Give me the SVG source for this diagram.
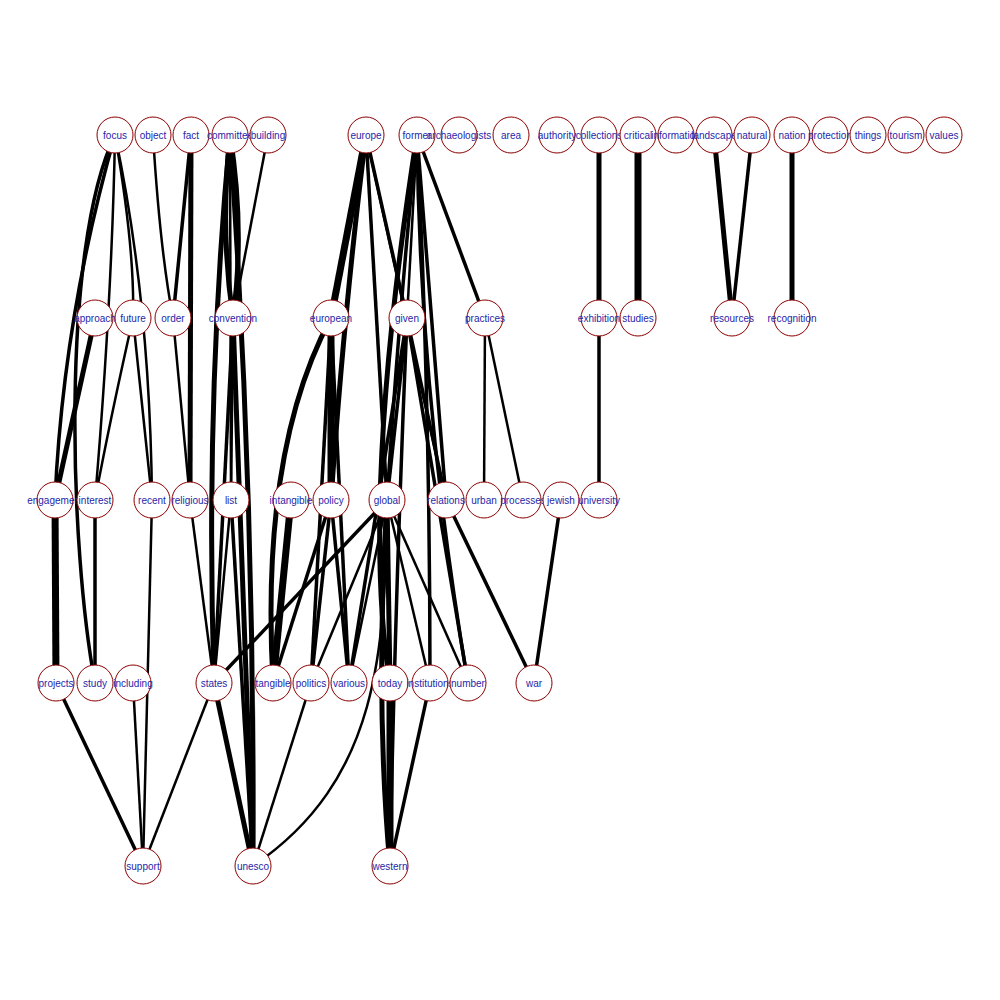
<svg xmlns="http://www.w3.org/2000/svg" width="1000" height="1000" viewBox="0 0 1000 1000">
<style>
.bg{fill:#fff}
.e path{fill:none;stroke:#000;stroke-linecap:butt}
.a{stroke-width:2.5}
.b{stroke-width:3.5}
.c{stroke-width:5}
.d{stroke-width:7}
.n circle{fill:#fff;stroke:#8b0000;stroke-width:1}
.n text{font-family:"Liberation Sans",Arial,sans-serif;font-size:10px;fill:#1f1fa8;text-anchor:middle;dominant-baseline:central}
</style>
<rect class="bg" width="1000" height="1000"/>
<g class="e" id="edges">
<!-- left cluster -->
<path class="b" d="M115,135 Q63,318 55,500"/>
<path class="b" d="M115,135 C60,250 70,550 95,683"/>
<path class="a" d="M115,135 Q112,300 95,500"/>
<path class="a" d="M115,135 Q135,250 133,318"/>
<path class="a" d="M115,135 Q150,300 152,500"/>
<path class="c" d="M95,318 L55,500"/>
<path class="a" d="M133,318 Q110,420 95,500"/>
<path class="a" d="M133,318 L152,500"/>
<path class="a" d="M153,135 Q160,250 173,318"/>
<path class="b" d="M191,135 L173,318"/>
<path class="c" d="M191,135 L190,500"/>
<path class="a" d="M173,318 L190,500"/>
<path class="d" d="M55,500 L56,683"/>
<path class="b" d="M95,500 L95,683"/>
<path class="a" d="M152,500 L143,866"/>
<path class="a" d="M133,683 L143,866"/>
<path class="b" d="M56,683 L143,866"/>
<path class="a" d="M214,683 L143,866"/>
<path class="a" d="M190,500 L214,683"/>
<!-- committee cluster -->
<path class="c" d="M230,135 Q220,230 233,318"/>
<path class="c" d="M230,135 Q245,230 233,318"/>
<path class="c" d="M230,135 Q205,400 214,683"/>
<path class="c" d="M230,135 Q255,500 253,866"/>
<path class="a" d="M230,135 L231,500"/>
<path class="a" d="M268,135 L233,318"/>
<path class="b" d="M233,318 L214,683"/>
<path class="c" d="M233,318 L253,866"/>
<path class="a" d="M233,318 L231,500"/>
<path class="a" d="M231,500 L214,683"/>
<path class="b" d="M231,500 L253,866"/>
<path class="c" d="M214,683 L253,866"/>
<path class="b" d="M387,500 L214,683"/>
<path class="a" d="M311,683 L253,866"/>
<path class="a" d="M387,500 C385,650 380,780 253,866"/>
<!-- europe cluster -->
<path class="d" d="M366,135 L331,318"/>
<path class="b" d="M366,135 L407,318"/>
<path class="c" d="M366,135 Q345,300 331,500"/>
<path class="b" d="M366,135 L387,500"/>
<path class="a" d="M366,135 L446,500"/>
<path class="a" d="M417,135 L407,318"/>
<path class="b" d="M417,135 L485,318"/>
<path class="b" d="M417,135 Q400,300 387,500"/>
<path class="b" d="M417,135 L446,500"/>
<path class="b" d="M417,135 Q430,400 430,683"/>
<path class="b" d="M417,135 Q420,400 468,683"/>
<path class="c" d="M417,135 Q360,500 390,683"/>
<path class="d" d="M331,318 L331,500"/>
<path class="c" d="M331,318 Q260,450 273,683"/>
<path class="b" d="M331,318 L349,683"/>
<path class="b" d="M331,318 L311,683"/>
<path class="d" d="M291,500 L273,683"/>
<path class="b" d="M331,500 L311,683"/>
<path class="b" d="M331,500 L349,683"/>
<path class="b" d="M331,500 L273,683"/>
<path class="c" d="M387,500 L390,683"/>
<path class="c" d="M387,500 Q375,700 390,866"/>
<path class="a" d="M387,500 L349,683"/>
<path class="a" d="M387,500 L311,683"/>
<path class="a" d="M387,500 L468,683"/>
<path class="a" d="M387,500 L430,683"/>
<path class="b" d="M407,318 L387,500"/>
<path class="b" d="M407,318 L446,500"/>
<path class="b" d="M407,318 L468,683"/>
<path class="b" d="M407,318 Q395,600 390,866"/>
<path class="b" d="M407,318 L349,683"/>
<path class="a" d="M485,318 L484,500"/>
<path class="a" d="M485,318 L523,500"/>
<path class="b" d="M446,500 L534,683"/>
<path class="b" d="M561,500 L534,683"/>
<path class="d" d="M390,683 L390,866"/>
<path class="b" d="M430,683 L390,866"/>
<!-- right cluster -->
<path class="c" d="M599,135 L599,318"/>
<path class="d" d="M638,135 L638,318"/>
<path class="b" d="M599,318 L599,500"/>
<path class="c" d="M714,135 L732,318"/>
<path class="b" d="M752,135 L732,318"/>
<path class="c" d="M792,135 L792,318"/>
</g>
<g class="n" id="nodes">
<g id="n-focus"><circle cx="115" cy="135" r="18"/><text x="115" y="135">focus</text></g>
<g id="n-object"><circle cx="153" cy="135" r="18"/><text x="153" y="135">object</text></g>
<g id="n-fact"><circle cx="191" cy="135" r="18"/><text x="191" y="135">fact</text></g>
<g id="n-committee"><circle cx="230" cy="135" r="18"/><text x="230" y="135">committee</text></g>
<g id="n-building"><circle cx="268" cy="135" r="18"/><text x="268" y="135">building</text></g>
<g id="n-europe"><circle cx="366" cy="135" r="18"/><text x="366" y="135">europe</text></g>
<g id="n-former"><circle cx="417" cy="135" r="18"/><text x="417" y="135">former</text></g>
<g id="n-archaeologists"><circle cx="459" cy="135" r="18"/><text x="459" y="135">archaeologists</text></g>
<g id="n-area"><circle cx="511" cy="135" r="18"/><text x="511" y="135">area</text></g>
<g id="n-authority"><circle cx="557" cy="135" r="18"/><text x="557" y="135">authority</text></g>
<g id="n-collections"><circle cx="599" cy="135" r="18"/><text x="599" y="135">collections</text></g>
<g id="n-critical"><circle cx="638" cy="135" r="18"/><text x="638" y="135">critical</text></g>
<g id="n-information"><circle cx="676" cy="135" r="18"/><text x="676" y="135">information</text></g>
<g id="n-landscape"><circle cx="714" cy="135" r="18"/><text x="714" y="135">landscape</text></g>
<g id="n-natural"><circle cx="752" cy="135" r="18"/><text x="752" y="135">natural</text></g>
<g id="n-nation"><circle cx="792" cy="135" r="18"/><text x="792" y="135">nation</text></g>
<g id="n-protection"><circle cx="830" cy="135" r="18"/><text x="830" y="135">protection</text></g>
<g id="n-things"><circle cx="868" cy="135" r="18"/><text x="868" y="135">things</text></g>
<g id="n-tourism"><circle cx="906" cy="135" r="18"/><text x="906" y="135">tourism</text></g>
<g id="n-values"><circle cx="944" cy="135" r="18"/><text x="944" y="135">values</text></g>
<g id="n-approach"><circle cx="95" cy="318" r="18"/><text x="95" y="318">approach</text></g>
<g id="n-future"><circle cx="133" cy="318" r="18"/><text x="133" y="318">future</text></g>
<g id="n-order"><circle cx="173" cy="318" r="18"/><text x="173" y="318">order</text></g>
<g id="n-convention"><circle cx="233" cy="318" r="18"/><text x="233" y="318">convention</text></g>
<g id="n-european"><circle cx="331" cy="318" r="18"/><text x="331" y="318">european</text></g>
<g id="n-given"><circle cx="407" cy="318" r="18"/><text x="407" y="318">given</text></g>
<g id="n-practices"><circle cx="485" cy="318" r="18"/><text x="485" y="318">practices</text></g>
<g id="n-exhibition"><circle cx="599" cy="318" r="18"/><text x="599" y="318">exhibition</text></g>
<g id="n-studies"><circle cx="638" cy="318" r="18"/><text x="638" y="318">studies</text></g>
<g id="n-resources"><circle cx="732" cy="318" r="18"/><text x="732" y="318">resources</text></g>
<g id="n-recognition"><circle cx="792" cy="318" r="18"/><text x="792" y="318">recognition</text></g>
<g id="n-engagement"><circle cx="55" cy="500" r="18"/><text x="55" y="500">engagement</text></g>
<g id="n-interest"><circle cx="95" cy="500" r="18"/><text x="95" y="500">interest</text></g>
<g id="n-recent"><circle cx="152" cy="500" r="18"/><text x="152" y="500">recent</text></g>
<g id="n-religious"><circle cx="190" cy="500" r="18"/><text x="190" y="500">religious</text></g>
<g id="n-list"><circle cx="231" cy="500" r="18"/><text x="231" y="500">list</text></g>
<g id="n-intangible"><circle cx="291" cy="500" r="18"/><text x="291" y="500">intangible</text></g>
<g id="n-policy"><circle cx="331" cy="500" r="18"/><text x="331" y="500">policy</text></g>
<g id="n-global"><circle cx="387" cy="500" r="18"/><text x="387" y="500">global</text></g>
<g id="n-relations"><circle cx="446" cy="500" r="18"/><text x="446" y="500">relations</text></g>
<g id="n-urban"><circle cx="484" cy="500" r="18"/><text x="484" y="500">urban</text></g>
<g id="n-processes"><circle cx="523" cy="500" r="18"/><text x="523" y="500">processes</text></g>
<g id="n-jewish"><circle cx="561" cy="500" r="18"/><text x="561" y="500">jewish</text></g>
<g id="n-university"><circle cx="599" cy="500" r="18"/><text x="599" y="500">university</text></g>
<g id="n-projects"><circle cx="56" cy="683" r="18"/><text x="56" y="683">projects</text></g>
<g id="n-study"><circle cx="95" cy="683" r="18"/><text x="95" y="683">study</text></g>
<g id="n-including"><circle cx="133" cy="683" r="18"/><text x="133" y="683">including</text></g>
<g id="n-states"><circle cx="214" cy="683" r="18"/><text x="214" y="683">states</text></g>
<g id="n-tangible"><circle cx="273" cy="683" r="18"/><text x="273" y="683">tangible</text></g>
<g id="n-politics"><circle cx="311" cy="683" r="18"/><text x="311" y="683">politics</text></g>
<g id="n-various"><circle cx="349" cy="683" r="18"/><text x="349" y="683">various</text></g>
<g id="n-today"><circle cx="390" cy="683" r="18"/><text x="390" y="683">today</text></g>
<g id="n-institutions"><circle cx="430" cy="683" r="18"/><text x="430" y="683">institutions</text></g>
<g id="n-number"><circle cx="468" cy="683" r="18"/><text x="468" y="683">number</text></g>
<g id="n-war"><circle cx="534" cy="683" r="18"/><text x="534" y="683">war</text></g>
<g id="n-support"><circle cx="143" cy="866" r="18"/><text x="143" y="866">support</text></g>
<g id="n-unesco"><circle cx="253" cy="866" r="18"/><text x="253" y="866">unesco</text></g>
<g id="n-western"><circle cx="390" cy="866" r="18"/><text x="390" y="866">western</text></g>
</g>
</svg>
